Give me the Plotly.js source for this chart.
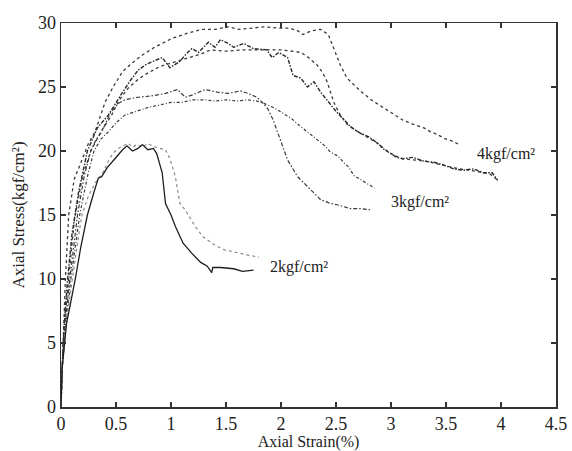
<!DOCTYPE html>
<html>
<head>
<meta charset="utf-8">
<script src="https://cdn.plot.ly/plotly-3.0.1.min.js"></script>
<style>html,body{margin:0;padding:0;background:#fff;}#chart{width:572px;height:451px;}</style>
</head>
<body>
<div id="chart"></div>
<script>
// 2 kgf/cm2 - solid
const x2a = [0,0.01,0.05,0.13,0.18,0.24,0.3,0.34,0.37,0.42,0.48,0.56,0.6,0.65,0.70,0.74,0.79,0.84,0.87,0.92,0.95,1.0,1.04,1.11,1.19,1.27,1.33,1.37,1.38,1.45,1.57,1.65,1.75];
const y2a = [0,3,6.5,10,12.5,15,16.8,17.9,18.0,18.7,19.3,20.1,20.4,20.0,20.2,20.5,20.1,20.2,19.8,18.3,15.9,15.0,14.1,12.8,12.0,11.3,11.0,10.5,10.9,10.9,10.8,10.6,10.7];
// 2 kgf/cm2 - dotted
const x2b = [0,0.01,0.05,0.1,0.15,0.19,0.25,0.31,0.38,0.43,0.47,0.52,0.56,0.61,0.65,0.69,0.74,0.79,0.83,0.86,0.95,0.99,1.04,1.08,1.13,1.22,1.29,1.39,1.48,1.57,1.68,1.8];
const y2b = [0,3,6.8,10,12.8,15,16.5,17.5,18.3,19.2,19.8,20.2,20.4,20.6,20.3,20.5,20.3,20.6,20.4,20.3,20.1,19.4,18.0,15.9,15.4,14.1,13.3,12.7,12.3,12.1,11.9,11.7];
// 3 kgf/cm2 - upper (steep drop)
const x3a = [0,0.01,0.04,0.08,0.15,0.21,0.27,0.32,0.37,0.45,0.52,0.58,0.7,0.82,0.95,1.06,1.13,1.2,1.31,1.42,1.52,1.63,1.7,1.78,1.83,1.88,1.93,1.99,2.06,2.15,2.24,2.36,2.45,2.51,2.63,2.72,2.82];
const y3a = [0,3,6.8,10,15,18,20,20.9,21.5,23.0,23.7,24.0,24.2,24.3,24.5,24.8,24.2,24.4,24.8,24.6,24.5,24.7,24.5,24.2,23.8,23.3,22.4,20.9,19.3,18.0,17.2,16.2,15.9,15.8,15.5,15.5,15.4];
// 3 kgf/cm2 - lower (gradual drop)
const x3b = [0,0.01,0.05,0.09,0.17,0.24,0.3,0.36,0.43,0.5,0.58,0.68,0.79,0.9,1.0,1.1,1.2,1.31,1.4,1.5,1.6,1.7,1.78,1.85,1.93,2.01,2.1,2.18,2.27,2.33,2.4,2.45,2.52,2.57,2.62,2.66,2.75,2.85];
const y3b = [0,3,6.8,10,15,18,20,20.9,21.5,22.2,22.8,23.1,23.4,23.6,23.8,23.8,24.0,24.0,23.9,24.0,23.9,24.0,23.9,23.7,23.4,23.0,22.5,21.9,21.3,20.9,20.4,19.9,19.6,19.1,18.7,18.1,17.6,17.1];
// 4 kgf/cm2 - top dotted
const x4a = [0,0.01,0.02,0.04,0.07,0.12,0.2,0.25,0.31,0.4,0.48,0.56,0.65,0.74,0.85,1.01,1.15,1.28,1.4,1.52,1.62,1.72,1.85,1.99,2.08,2.15,2.2,2.28,2.36,2.43,2.48,2.54,2.6,2.72,2.82,2.93,3.02,3.11,3.2,3.3,3.36,3.42,3.48,3.55,3.62];
const y4a = [0,3,6,10,15,17.8,19.5,20.6,21.5,23.8,25.1,26.2,26.9,27.5,28.1,28.8,29.2,29.5,29.5,29.7,29.5,29.6,29.7,29.6,29.6,29.4,29.1,29.4,29.5,29.1,28.0,26.7,25.7,24.7,24.0,23.4,22.9,22.4,22.1,21.8,21.5,21.3,21.0,20.8,20.5];
// 4 kgf/cm2 - jagged
const x4b = [0,0.01,0.03,0.06,0.1,0.16,0.24,0.33,0.43,0.5,0.56,0.63,0.7,0.78,0.86,0.92,0.99,1.08,1.14,1.19,1.25,1.34,1.4,1.45,1.52,1.57,1.66,1.75,1.87,1.92,1.98,2.06,2.11,2.18,2.24,2.3,2.36,2.45,2.51,2.6,2.63,2.72,2.8,2.88,2.94,3.0,3.05,3.11,3.2,3.3,3.4,3.48,3.57,3.66,3.75,3.84,3.92,3.97];
const y4b = [0,3,6.5,10,13.5,16.8,20,21.8,22.8,23.8,24.6,25.5,26.3,26.8,27.1,27.3,26.5,27.0,27.6,28.0,27.7,28.5,28.1,28.7,28.4,28.1,28.4,28.0,27.9,27.3,27.7,27.3,25.9,25.7,25.0,25.4,24.6,23.6,23.0,22.2,21.9,21.4,21.1,20.6,20.1,19.8,19.5,19.4,19.5,19.2,19.1,18.9,18.6,18.5,18.6,18.3,18.3,17.7];
// 4 kgf/cm2 - dotted
const x4c = [0,0.01,0.03,0.07,0.12,0.19,0.27,0.37,0.46,0.53,0.61,0.7,0.79,0.9,1.01,1.15,1.28,1.36,1.5,1.66,1.8,2.0,2.1,2.18,2.25,2.33,2.38,2.42,2.48,2.54,2.6,2.68,2.76,2.86,2.95,3.02,3.1,3.2,3.32,3.42,3.52,3.62,3.72,3.82,3.9,3.96];
const y4c = [0,3,6.5,10,14.5,17.8,20,21.6,22.8,24.0,24.9,25.6,26.1,26.6,26.9,27.3,27.6,27.9,27.8,27.9,27.9,27.9,27.8,27.7,27.3,26.7,26.1,25.4,23.8,22.8,22.1,21.6,21.2,20.7,20.1,19.7,19.4,19.3,19.2,19.0,18.8,18.6,18.5,18.3,18.2,17.8];

const labels = ["2kgf/cm²","3kgf/cm²","4kgf/cm²"];
const labelX = [1.885, 2.98, 3.76];
const labelY = [10.9, 16.0, 19.8];

const xTitle = "Axial Strain(%)";
const yTitle = "Axial Stress(kgf/cm²)";

const serif = "Liberation Serif, Times New Roman, serif";

function tr(x, y, color, dash, width) {
  return {x: x, y: y, type: "scatter", mode: "lines",
    line: {color: color, dash: dash, width: width}, hoverinfo: "skip", showlegend: false};
}

const data = [
  tr(x4a, y4a, "#3a3a3a", "dot", 1.3),
  tr(x4c, y4c, "#3a3a3a", "dot", 1.3),
  tr(x4b, y4b, "#2a2a2a", "4px,1.5px,1.5px,1.5px", 1.4),
  tr(x3a, y3a, "#3a3a3a", "4px,2px,1.5px,2px", 1.2),
  tr(x3b, y3b, "#3a3a3a", "3px,2px,1px,2px", 1.2),
  tr(x2b, y2b, "#8a8a8a", "dot", 1.2),
  tr(x2a, y2a, "#1e1e1e", "solid", 1.3)
];

const annotations = labels.map((t, i) => ({
  x: labelX[i], y: labelY[i], xref: "x", yref: "y", text: t, showarrow: false,
  xanchor: "left", yanchor: "middle", font: {family: serif, size: 16, color: "#222"}
}));

const axisCommon = {
  showgrid: false, zeroline: false, showline: true, linecolor: "#333", linewidth: 1.5,
  mirror: "ticks", ticks: "inside", ticklen: 5, tickwidth: 1.2, tickcolor: "#333",
  tickfont: {family: serif, size: 18, color: "#222"}, automargin: false
};

const layout = {
  width: 572, height: 451,
  margin: {l: 61, r: 16, t: 23, b: 44},
  paper_bgcolor: "#fff", plot_bgcolor: "#fff",
  showlegend: false,
  xaxis: Object.assign({}, axisCommon, {
    range: [0, 4.5], dtick: 0.5, tick0: 0,
    title: {text: xTitle, font: {family: serif, size: 16, color: "#222"}, standoff: 2}
  }),
  yaxis: Object.assign({}, axisCommon, {
    range: [0, 30], dtick: 5, tick0: 0,
    title: {text: yTitle, font: {family: serif, size: 17, color: "#222"}, standoff: 9}
  }),
  annotations: annotations
};

Plotly.newPlot("chart", data, layout, {displayModeBar: false, staticPlot: true});
</script>
</body>
</html>
